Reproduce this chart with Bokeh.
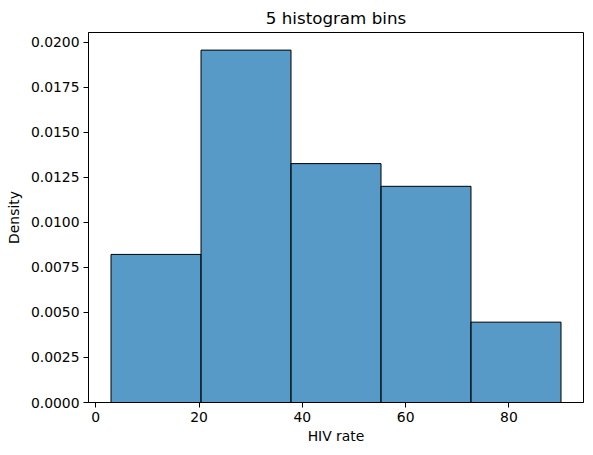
from bokeh.plotting import figure
from bokeh.models import ColumnDataSource, Range1d, FixedTicker, PrintfTickFormatter
from bokeh.embed import file_html
from bokeh.resources import INLINE

# bin edges and density per bin
bin_edges = [2.95, 20.38, 37.80, 55.23, 72.65, 90.08]
density = [0.00822, 0.01956, 0.01326, 0.01200, 0.00446]

x_ticks = [0, 20, 40, 60, 80]
y_ticks = [0.0, 0.0025, 0.005, 0.0075, 0.01, 0.0125, 0.015, 0.0175, 0.02]

FONT = "DejaVu Sans"

src = ColumnDataSource(dict(
    left=bin_edges[:-1],
    right=bin_edges[1:],
    top=density,
    bottom=[0] * len(density),
))

pad_x = (bin_edges[-1] - bin_edges[0]) * 0.05
p = figure(
    frame_width=495, frame_height=370,
    min_border_left=88, min_border_right=10, min_border_top=32, min_border_bottom=53,
    x_range=Range1d(bin_edges[0] - pad_x, bin_edges[-1] + pad_x),
    y_range=Range1d(0, max(density) * 1.05),
    title="5 histogram bins",
    toolbar_location=None, output_backend="svg",
)

p.quad(left="left", right="right", top="top", bottom="bottom", source=src,
       fill_color="#1f77b4", fill_alpha=0.75, line_color="black", line_width=1)

p.title.align = "center"
p.title.text_font = FONT
p.title.text_font_size = "16.7px"
p.title.text_font_style = "normal"
p.title.text_color = "black"
p.title.standoff = 10

p.xgrid.visible = False
p.ygrid.visible = False
p.outline_line_color = "black"
p.outline_line_alpha = 1.0

p.xaxis.ticker = FixedTicker(ticks=x_ticks)
p.yaxis.ticker = FixedTicker(ticks=y_ticks)
p.yaxis.formatter = PrintfTickFormatter(format="%.4f")
p.xaxis.axis_label = "HIV rate"
p.yaxis.axis_label = "Density"

for ax in (p.xaxis, p.yaxis):
    ax.major_tick_in = 0
    ax.major_tick_out = 5
    ax.minor_tick_line_color = None
    ax.axis_line_color = "black"
    ax.major_tick_line_color = "black"
    ax.major_label_text_font = FONT
    ax.major_label_text_font_size = "13.9px"
    ax.major_label_text_color = "black"
    ax.axis_label_text_font = FONT
    ax.axis_label_text_font_size = "13.9px"
    ax.axis_label_text_font_style = "normal"
    ax.axis_label_text_color = "black"

p.xaxis.major_label_standoff = 4
p.xaxis.axis_label_standoff = 3
p.yaxis.major_label_standoff = 4
p.yaxis.axis_label_standoff = 6

open("out.html", "w").write(file_html(p, INLINE))
